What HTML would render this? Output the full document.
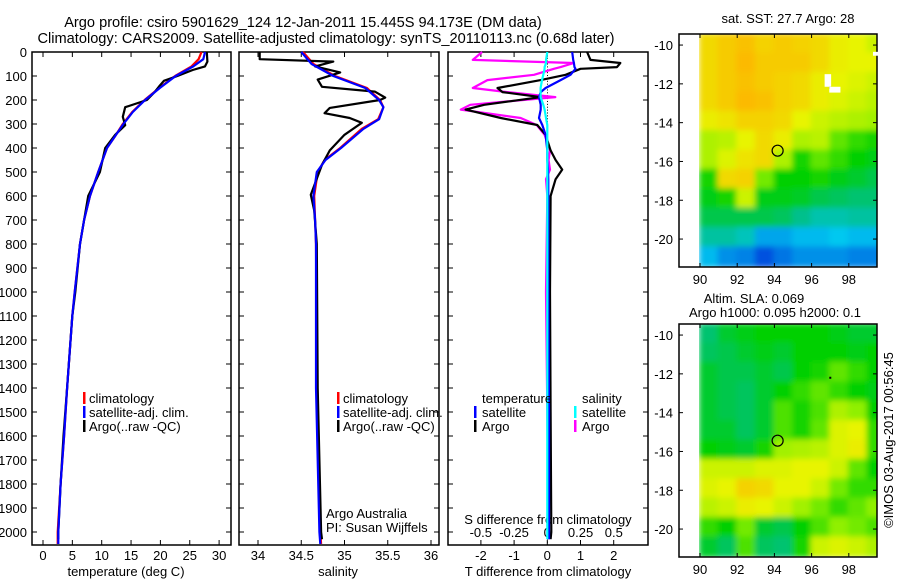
<!DOCTYPE html>
<html><head><meta charset="utf-8"><style>
body{margin:0;background:#fff}
svg{display:block;font-family:"Liberation Sans",sans-serif;font-size:13px}
</style></head><body>
<svg id="c" width="900" height="580" viewBox="0 0 900 580" xmlns="http://www.w3.org/2000/svg">
<text x="303" y="27" text-anchor="middle" font-size="14.6">Argo profile: csiro 5901629_124 12-Jan-2011 15.445S 94.173E (DM data)</text>
<text x="326" y="43" text-anchor="middle" font-size="14.6">Climatology: CARS2009. Satellite-adjusted climatology: synTS_20110113.nc (0.68d later)</text>
<g id="g"></g>
</svg>
<script>
// ---- data ----
const depthTicks=[0,100,200,300,400,500,600,700,800,900,1000,1100,1200,1300,1400,1500,1600,1700,1800,1900,2000];
const tempTicks=[0,5,10,15,20,25,30];
const salTicks=[34,34.5,35,35.5,36];
const salTickLabels=["34","34.5","35","35.5","36"];
const tdTicks=[-2,-1,0,1,2];
const sdTicks=[-0.5,-0.25,0,0.25,0.5];
const sdTickLabels=["-0.5","-0.25","0","0.25","0.5"];
const climTempDepth=[0,30,60,100,150,200,250,300,350,400,500,600,700,800,1000,1100,1400,1600,1800,2000,2050];
const climTemp=[27.0,26.5,25.3,22.5,19.8,17.3,15.2,13.6,12.3,10.9,9.4,8.0,7.0,6.3,5.4,5.0,4.1,3.6,3.0,2.5,2.5];
const satTemp=[27.6,27.3,25.6,22.6,19.9,17.4,15.3,13.7,12.3,10.9,9.4,8.0,7.0,6.3,5.4,5.0,4.1,3.6,3.0,2.6,2.6];
const argoTempDepth=[0,40,60,75,100,120,140,165,200,230,270,305,345,400,500,600,700,800,1000,1100,1400,1600,1800,2000,2030];
const argoTemp=[27.9,28.0,27.6,25.5,22.9,20.6,19.9,19.1,17.7,14.0,13.6,14.0,12.3,10.6,9.7,7.7,7.0,6.3,5.5,5.0,4.1,3.5,3.0,2.6,2.6];
const climSalDepth=[0,50,100,150,200,230,280,320,400,450,500,600,700,800,1400,2000,2050];
const climSal=[34.52,34.64,34.89,35.26,35.41,35.45,35.39,35.2,34.95,34.77,34.69,34.65,34.66,34.67,34.68,34.72,34.73];
const satSal=[34.50,34.62,34.87,35.24,35.40,35.45,35.40,35.22,34.96,34.78,34.68,34.64,34.66,34.67,34.67,34.71,34.72];
const argoSalDepth=[0,30,40,60,85,115,145,165,190,200,233,255,275,295,345,410,470,595,660,800,1400,2000,2030];
const argoSal=[34.02,34.02,34.87,34.66,34.95,34.69,34.74,35.35,35.47,35.41,34.83,34.77,35.06,35.2,35.0,34.83,34.74,34.61,34.65,34.68,34.69,34.73,34.74];
const diffDepth=[0,33,46,63,70,95,117,150,167,188,220,240,275,304,345,410,450,490,530,600,1000,1500,2000,2030];
const argoTDiff=[1.2,1.3,2.2,2.1,1.0,0.55,-0.2,-1.5,-1.35,-0.2,-1.9,-2.46,-1.4,-0.3,-0.05,0.1,0.25,0.45,0.25,0.1,0.08,0.1,0.12,0.1];
const satTDiff=[0.75,0.78,0.8,0.82,0.85,0.7,0.4,-0.05,-0.2,-0.25,-0.2,-0.2,-0.25,-0.15,-0.05,0,0,0.02,0.03,0.03,0.03,0.05,0.05,0.05];
const argoSDiff=[-0.49,-0.56,0.2,0.1,0.05,-0.1,-0.45,-0.56,-0.3,0.06,-0.58,-0.65,-0.2,-0.08,-0.02,0.02,0.01,0.02,-0.01,0,-0.01,0,0.01,0.01];
const satSDiff=[0,-0.01,-0.01,-0.02,-0.02,-0.03,-0.04,-0.05,-0.05,-0.05,-0.03,-0.02,-0.01,0,0,0,0,0,0,0,0,0,0,0];
const lonTicks=[90,92,94,96,98];
const latTicks=[-10,-12,-14,-16,-18,-20];
const sstGrid=[
[0.88,0.92,0.95,0.9,0.92,0.9,0.88,0.82,0.8,0.75],
[0.88,0.92,0.97,0.92,0.92,0.92,0.88,0.82,0.8,0.8],
[0.88,0.92,0.95,0.92,0.9,0.88,0.82,0.8,0.78,0.75],
[0.88,0.92,0.97,0.95,0.9,0.88,0.82,0.78,0.75,0.72],
[0.82,0.85,0.9,0.9,0.88,0.8,0.75,0.72,0.7,0.68],
[0.7,0.72,0.8,0.88,0.82,0.7,0.72,0.6,0.55,0.52],
[0.7,0.78,0.85,0.88,0.7,0.52,0.6,0.55,0.5,0.48],
[0.52,0.88,0.9,0.62,0.5,0.5,0.52,0.48,0.45,0.42],
[0.48,0.52,0.75,0.48,0.48,0.46,0.42,0.4,0.38,0.38],
[0.42,0.42,0.42,0.42,0.4,0.35,0.3,0.3,0.32,0.32],
[0.32,0.32,0.28,0.15,0.15,0.18,0.18,0.2,0.18,0.18],
[0.18,0.12,0.1,0.03,0.08,0.12,0.12,0.12,0.1,0.1]];
const slaGrid=[
[0.38,0.45,0.48,0.5,0.5,0.5,0.5,0.48,0.45,0.45],
[0.4,0.42,0.45,0.48,0.45,0.5,0.5,0.5,0.48,0.5],
[0.45,0.42,0.42,0.45,0.42,0.5,0.52,0.6,0.55,0.5],
[0.45,0.42,0.4,0.45,0.5,0.55,0.6,0.55,0.5,0.48],
[0.45,0.42,0.4,0.45,0.58,0.52,0.58,0.7,0.65,0.5],
[0.45,0.45,0.4,0.45,0.58,0.52,0.6,0.78,0.8,0.55],
[0.5,0.48,0.45,0.52,0.68,0.7,0.72,0.78,0.82,0.55],
[0.75,0.75,0.75,0.78,0.78,0.8,0.8,0.75,0.6,0.5],
[0.78,0.8,0.9,0.88,0.8,0.8,0.75,0.62,0.55,0.55],
[0.72,0.75,0.82,0.8,0.75,0.68,0.62,0.55,0.6,0.65],
[0.55,0.5,0.62,0.45,0.42,0.5,0.58,0.65,0.62,0.58],
[0.45,0.4,0.58,0.4,0.38,0.52,0.75,0.78,0.75,0.7]];
const argoLon=94.173, argoLat=-15.445;

// ---- helpers ----
const NS="http://www.w3.org/2000/svg";
const G=document.getElementById('g');
function mk(tag,attrs,parent){const e=document.createElementNS(NS,tag);for(const k in attrs)e.setAttribute(k,attrs[k]);(parent||G).appendChild(e);return e;}
function txt(x,y,s,anchor,parent){const t=mk('text',{x:x,y:y,'text-anchor':anchor||'start'},parent);t.textContent=s;return t;}
const top0=52,bot=545;
const yD=d=>top0+d*0.24;
const xT=t=>43+t*5.87;
const xS=s=>258+(s-34)*86.5;
const xTD=d=>547.3+d*33.2;
const xSD=s=>547.3+s*133;

function frame(x0,x1,name){const r=mk('rect',{x:x0,y:top0,width:x1-x0,height:bot-top0,fill:'none',stroke:'#000','stroke-width':1.5});

}
function line(xs,ds,fx,color,name){let p=xs.map((v,i)=>fx(v).toFixed(1)+','+yD(ds[i]).toFixed(1)).join(' ');
const l=mk('polyline',{points:p,fill:'none',stroke:color,'stroke-width':2.2,'stroke-linejoin':'round'});

}
function yTicks(x0,x1){depthTicks.forEach(d=>{mk('line',{x1:x0,x2:x0+5,y1:yD(d),y2:yD(d),stroke:'#000'});mk('line',{x1:x1-5,x2:x1,y1:yD(d),y2:yD(d),stroke:'#000'});});}

// panel 1 temperature
frame(32,231,'temperature-panel');
yTicks(32,231);
depthTicks.forEach(d=>{const t=txt(27,yD(d)+5,String(d),'end');

});
tempTicks.forEach(v=>{mk('line',{x1:xT(v),x2:xT(v),y1:bot,y2:bot-5,stroke:'#000'});mk('line',{x1:xT(v),x2:xT(v),y1:top0,y2:top0+5,stroke:'#000'});
const t=txt(xT(v),560,String(v),'middle');

});
const xl1=txt(126,576,'temperature (deg C)','middle');


line(climTemp,climTempDepth,xT,'#f00','climatology-temperature-line');
line(argoTemp,argoTempDepth,xT,'#000','argo-temperature-line');
line(satTemp,climTempDepth,xT,'#00f','satellite-temperature-line');

// panel 2 salinity
frame(239,439,'salinity-panel');
yTicks(239,439);
salTicks.forEach((v,i)=>{mk('line',{x1:xS(v),x2:xS(v),y1:bot,y2:bot-5,stroke:'#000'});mk('line',{x1:xS(v),x2:xS(v),y1:top0,y2:top0+5,stroke:'#000'});
const t=txt(xS(v),560,salTickLabels[i],'middle');

});
const xl2=txt(338,576,'salinity','middle');


line(climSal,climSalDepth,xS,'#f00','climatology-salinity-line');
line(argoSal,argoSalDepth,xS,'#000','argo-salinity-line');
line(satSal,climSalDepth,xS,'#00f','satellite-salinity-line');
const pi1=txt(326,518,'Argo Australia');
const pi2=txt(326,532,'PI: Susan Wijffels');

// legends panels 1,2
function legend(x,entries){entries.forEach((e,i)=>{const y=398+i*14;mk('rect',{x:x,y:y-6,width:2.5,height:12,fill:e[1]});
const t=txt(x+6,y+5,e[0]);

});}
legend(83,[['climatology','#f00'],['satellite-adj. clim.','#00f'],['Argo(..raw -QC)','#000']]);
legend(337,[['climatology','#f00'],['satellite-adj. clim.','#00f'],['Argo(..raw -QC)','#000']]);

// panel 3 differences
frame(448,648,'difference-panel');
yTicks(448,648);
tdTicks.forEach(v=>{mk('line',{x1:xTD(v),x2:xTD(v),y1:bot,y2:bot-5,stroke:'#000'});mk('line',{x1:xTD(v),x2:xTD(v),y1:top0,y2:top0+5,stroke:'#000'});
const t=txt(xTD(v),560,String(v),'middle');

});
sdTicks.forEach((v,i)=>{const t=txt(xSD(v),537,sdTickLabels[i],'middle');

});
const sdl=txt(548,524,'S difference from climatology','middle');
const tdl=txt(548,576,'T difference from climatology','middle');
for(let d=0;d<2050;d+=12){mk('rect',{x:547,y:yD(d),width:1,height:1,fill:'#000'});}
line(argoSDiff,diffDepth,xSD,'#f0f','argo-salinity-diff-line');
line(argoTDiff,diffDepth,xTD,'#000','argo-temperature-diff-line');
line(satTDiff,diffDepth,xTD,'#00f','satellite-temperature-diff-line');
line(satSDiff,diffDepth,xSD,'#0ff','satellite-salinity-diff-line');
const lt=txt(482,403,'temperature');
const ls=txt(582,403,'salinity');
[['satellite','#00f',474],['Argo','#000',474],['satellite','#0ff',574],['Argo','#f0f',574]].forEach((e,i)=>{const y=412+(i%2)*14;
mk('rect',{x:e[2],y:y-6,width:2.5,height:12,fill:e[1]});
const t=txt(e[2]+8,y+5,e[0]);

});

// maps
const ramp=[[0,[0,60,220]],[0.2,[0,200,240]],[0.35,[0,192,140]],[0.5,[0,208,0]],[0.65,[144,240,0]],[0.8,[232,244,0]],[1,[255,176,0]]];
function col(v){for(let i=1;i<ramp.length;i++){if(v<=ramp[i][0]){const a=ramp[i-1],b=ramp[i],t=(v-a[0])/(b[0]-a[0]);return 'rgb('+a[1].map((c,k)=>Math.round(c+(b[1][k]-c)*t)).join(',')+')';}}return 'rgb(255,176,0)';}
function map(y0,latTop,grid,name,fid){
const x0=679,x1=877,h=233;
const xL=lon=>700+(lon-90)*18.6;
const yL=lat=>y0+(latTop-lat)*19.4;
const cp=mk('clipPath',{id:'cp'+fid});mk('rect',{x:699,y:y0,width:x1-699,height:h},cp);
const gg=mk('g',{'clip-path':'url(#cp'+fid+')'});
const fl=mk('filter',{id:'f'+fid,x:'-10%',y:'-10%',width:'120%',height:'120%'});mk('feGaussianBlur',{stdDeviation:3},fl);
const inner=mk('g',{filter:'url(#f'+fid+')'},gg);
grid.forEach((row,r)=>row.forEach((v,c)=>{const cell=mk('rect',{x:xL(90+c)-1,y:yL(latTop-r)-1,width:20.6,height:21.4,fill:col(v)},inner);


}));
const fr=mk('rect',{x:x0,y:y0,width:x1-x0,height:h,fill:'none',stroke:'#000','stroke-width':1.5});


lonTicks.forEach(l=>{mk('line',{x1:xL(l),x2:xL(l),y1:y0,y2:y0+4,stroke:'#000'});mk('line',{x1:xL(l),x2:xL(l),y1:y0+h,y2:y0+h-4,stroke:'#000'});
const t=txt(xL(l),y0+h+17,String(l),'middle');});
latTicks.forEach(l=>{mk('line',{x1:x0,x2:x0+4,y1:yL(l),y2:yL(l),stroke:'#000'});mk('line',{x1:x1,x2:x1-4,y1:yL(l),y2:yL(l),stroke:'#000'});
const t=txt(673,yL(l)+5,String(l),'end');});
const m=mk('circle',{cx:xL(argoLon),cy:yL(argoLat),r:5.5,fill:'none',stroke:'#000','stroke-width':1.2});


mk('rect',{x:xL(96.95),y:yL(-12.15),width:2,height:2,fill:'#000'});
return {xL:xL,yL:yL};}
const m1=map(34,-9.43,sstGrid,'sst-map',1);
[[96.7,-11.5,0.35,0.65],[96.95,-12.15,0.6,0.3],[99.3,-10.35,0.3,0.2]].forEach(p=>{const r=mk('rect',{x:m1.xL(p[0]),y:m1.yL(p[1]),width:p[2]*18.6,height:p[3]*19.4,fill:'#fff'});

});
const m2=map(324,-9.43,slaGrid,'sla-map',2);
const t1=txt(788,23,'sat. SST: 27.7 Argo: 28','middle');
const t2=txt(754,303,'Altim. SLA: 0.069','middle');
const t3=txt(775,317,'Argo h1000: 0.095 h2000: 0.1','middle');
const cr=txt(0,0,'©IMOS 03-Aug-2017 00:56:45','middle');cr.setAttribute('transform','translate(893,440) rotate(-90)');

</script>
</body></html>
